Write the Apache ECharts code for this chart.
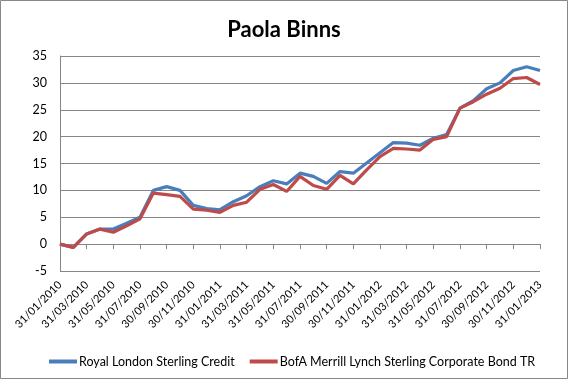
<!DOCTYPE html>
<html><head><meta charset="utf-8">
<script src="https://cdn.jsdelivr.net/npm/echarts@6/dist/echarts.min.js"></script>
<style>html,body{margin:0;padding:0;background:#fff}#c{width:568px;height:379px}</style>
</head><body><div id="c"></div>
<script>
const categories = [
 '31/01/2010','28/02/2010','31/03/2010','30/04/2010','31/05/2010','30/06/2010','31/07/2010','31/08/2010','30/09/2010','31/10/2010','30/11/2010','31/12/2010',
 '31/01/2011','28/02/2011','31/03/2011','30/04/2011','31/05/2011','30/06/2011','31/07/2011','31/08/2011','30/09/2011','31/10/2011','30/11/2011','31/12/2011',
 '31/01/2012','29/02/2012','31/03/2012','30/04/2012','31/05/2012','30/06/2012','31/07/2012','31/08/2012','30/09/2012','31/10/2012','30/11/2012','31/12/2012',
 '31/01/2013'];
const royalLondon = [0,-0.6,1.9,2.8,2.8,3.9,5.0,10.0,10.7,10.0,7.2,6.6,6.4,7.9,9.0,10.7,11.8,11.2,13.2,12.6,11.3,13.5,13.2,15.1,17.0,18.9,18.8,18.4,19.7,20.4,25.3,26.7,28.9,30.0,32.3,33.0,32.3];
const bofaMerrill = [0,-0.6,1.9,2.8,2.2,3.4,4.7,9.5,9.2,8.9,6.5,6.3,5.9,7.2,7.8,10.2,11.1,9.8,12.6,10.9,10.2,12.8,11.2,13.8,16.3,17.8,17.7,17.5,19.5,20.0,25.3,26.5,27.9,29.0,30.8,31.0,29.7];
const seriesNames = ['Royal London Sterling Credit','BofA Merrill Lynch Sterling Corporate Bond TR'];
const yTicks = {min:-5, max:35, interval:5};

const FONT = 'Lato';
const chart = echarts.init(document.getElementById('c'));
chart.setOption({
  animation:false,
  backgroundColor:'#fff',
  title:{text:'Paola Binns', left:'center', top:14, textStyle:{fontFamily:FONT, fontSize:22, fontWeight:'bold', color:'#000'}},
  graphic:[{type:'rect', shape:{x:0.5,y:0.5,width:567,height:378}, style:{fill:null, stroke:'#888', lineWidth:1}, silent:true}],
  grid:{left:60, right:28, top:56, bottom:108},
  legend:{bottom:6, left:44, itemWidth:28, itemHeight:4, itemGap:15, icon:'rect',
    textStyle:{fontFamily:FONT, fontSize:12.5, color:'#000', padding:[0,0,0,-3]}, data:seriesNames},
  xAxis:[{
    type:'category', data:categories, boundaryGap:false, position:'bottom',
    axisLine:{show:false, onZero:false}, axisTick:{show:false},
    axisLabel:{interval:1, rotate:45, fontFamily:FONT, fontSize:11, color:'#000', margin:12},
    splitLine:{show:false}
  },{
    type:'category', data:categories, boundaryGap:false, position:'bottom',
    axisLine:{show:true, onZero:true, lineStyle:{color:'#868686', width:1}},
    axisTick:{show:true, interval:1, length:5, lineStyle:{color:'#868686'}},
    axisLabel:{show:false}, splitLine:{show:false}
  }],
  yAxis:{type:'value', min:yTicks.min, max:yTicks.max, interval:yTicks.interval,
    axisLine:{show:true, lineStyle:{color:'#868686'}}, axisTick:{show:false},
    axisLabel:{fontFamily:FONT, fontSize:12.5, color:'#000', margin:13},
    splitLine:{lineStyle:{color:'#868686', width:1}}},
  series:[
    {name:seriesNames[0], type:'line', data:royalLondon, showSymbol:false, symbol:'none', lineStyle:{width:3.2, color:'#4A7EBB'}, itemStyle:{color:'#4A7EBB'}},
    {name:seriesNames[1], type:'line', data:bofaMerrill, showSymbol:false, symbol:'none', lineStyle:{width:3.2, color:'#BE4B48'}, itemStyle:{color:'#BE4B48'}}
  ]
});
</script></body></html>
